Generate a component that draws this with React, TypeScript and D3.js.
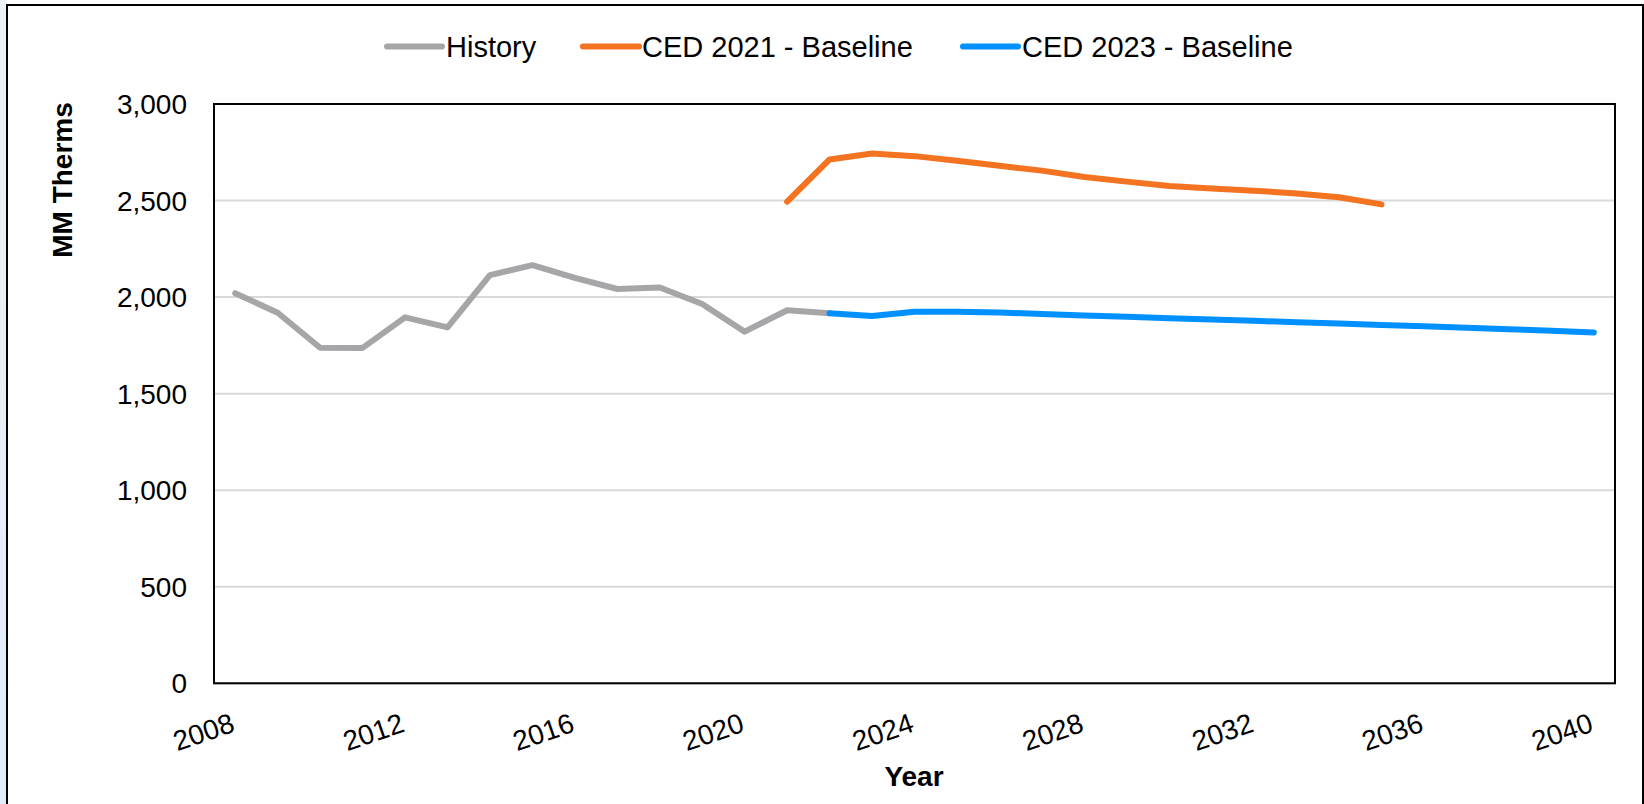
import React from "react";
import * as d3 from "d3";

const years = [2008, 2009, 2010, 2011, 2012, 2013, 2014, 2015, 2016, 2017, 2018, 2019, 2020, 2021, 2022, 2023, 2024, 2025, 2026, 2027, 2028, 2029, 2030, 2031, 2032, 2033, 2034, 2035, 2036, 2037, 2038, 2039, 2040];
const tickYears = [2008, 2012, 2016, 2020, 2024, 2028, 2032, 2036, 2040];
const yTicks = [0, 500, 1000, 1500, 2000, 2500, 3000];

const historyYears = [2008, 2009, 2010, 2011, 2012, 2013, 2014, 2015, 2016, 2017, 2018, 2019, 2020, 2021, 2022];
const historyValues = [2020, 1919, 1738, 1737, 1895, 1843, 2114, 2166, 2100, 2042, 2050, 1964, 1821, 1932, 1916];

const ced2021Years = [2021, 2022, 2023, 2024, 2025, 2026, 2027, 2028, 2029, 2030, 2031, 2032, 2033, 2034, 2035];
const ced2021Values = [2494, 2713, 2744, 2730, 2706, 2680, 2655, 2622, 2598, 2575, 2563, 2551, 2537, 2517, 2480];

const ced2023Years = [2022, 2023, 2024, 2025, 2026, 2027, 2028, 2029, 2030, 2031, 2032, 2033, 2034, 2035, 2036, 2037, 2038, 2039, 2040];
const ced2023Values = [1916, 1902, 1924, 1924, 1920, 1913, 1905, 1898, 1890, 1884, 1877, 1870, 1863, 1856, 1849, 1841, 1834, 1826, 1817];

const seriesNames = ["History", "CED 2021 - Baseline", "CED 2023 - Baseline"];
const seriesColors = ["#A6A6A9", "#F47321", "#0090FF"];

const W = 1644;
const H = 804;
const plot = { left: 214, right: 1615, top: 104, bottom: 683.3 };
const FONT = "'Liberation Sans', Arial, sans-serif";

export default function App() {
  const x = d3
    .scaleBand<number>()
    .domain(years)
    .range([plot.left, plot.right])
    .padding(0);
  const cx = (yr: number) => (x(yr) as number) + x.bandwidth() / 2;
  const y = d3.scaleLinear().domain([0, 3000]).range([plot.bottom, plot.top]);
  const fmt = d3.format(",");

  const line = d3
    .line<[number, number]>()
    .x((d) => cx(d[0]))
    .y((d) => y(d[1]));

  const series = [
    historyYears.map((yr, i) => [yr, historyValues[i]] as [number, number]),
    ced2021Years.map((yr, i) => [yr, ced2021Values[i]] as [number, number]),
    ced2023Years.map((yr, i) => [yr, ced2023Values[i]] as [number, number]),
  ];

  const legendItems = [
    { line: [387, 442], text: 446 },
    { line: [583, 639], text: 642 },
    { line: [963, 1018], text: 1022 },
  ];

  return (
    <svg
      width={W}
      height={H}
      style={{ position: "absolute", left: 0, top: 0, background: "#fff" }}
      fontFamily={FONT}
    >
      <defs>
        <linearGradient id="edge" x1="0" y1="0" x2="0" y2="1">
          <stop offset="0" stopColor="#EEF1F6" />
          <stop offset="1" stopColor="#E1ECF7" />
        </linearGradient>
      </defs>
      <rect x={0} y={0} width={W} height={H} fill="#fff" />
      <rect x={0} y={0} width={7} height={H} fill="url(#edge)" />
      <rect x={7} y={5} width={1636} height={H + 10} fill="#fff" stroke="#000" strokeWidth={2} />

      {/* grid */}
      {yTicks.map((t) => (
        <line key={"g" + t} x1={plot.left} x2={plot.right} y1={y(t)} y2={y(t)} stroke="#D9D9D9" strokeWidth={2} />
      ))}

      {/* series */}
      {series.map((s, i) => (
        <path
          key={"s" + i}
          d={line(s) || ""}
          fill="none"
          stroke={seriesColors[i]}
          strokeWidth={6}
          strokeLinejoin="round"
          strokeLinecap="round"
        />
      ))}

      {/* plot border */}
      <rect
        x={plot.left}
        y={plot.top}
        width={plot.right - plot.left}
        height={plot.bottom - plot.top}
        fill="none"
        stroke="#000"
        strokeWidth={2}
      />

      {/* y tick labels */}
      {yTicks.map((t) => (
        <text key={"yl" + t} x={187} y={y(t) + 10} textAnchor="end" fontSize={28} fill="#000">
          {fmt(t)}
        </text>
      ))}

      {/* x tick labels */}
      {tickYears.map((t) => (
        <text
          key={"xl" + t}
          x={cx(t) + 1}
          y={731}
          textAnchor="end"
          fontSize={28}
          fill="#000"
          transform={`rotate(-19, ${cx(t) + 1}, 731)`}
        >
          {t}
        </text>
      ))}

      {/* axis titles */}
      <text
        x={0}
        y={0}
        transform="translate(72, 180) rotate(-90)"
        textAnchor="middle"
        fontSize={28}
        fontWeight="bold"
        fill="#000"
      >
        MM Therms
      </text>
      <text x={914} y={786} textAnchor="middle" fontSize={28} fontWeight="bold" fill="#000">
        Year
      </text>

      {/* legend */}
      {legendItems.map((it, i) => (
        <g key={"lg" + i}>
          <line
            x1={it.line[0]}
            x2={it.line[1]}
            y1={46.5}
            y2={46.5}
            stroke={seriesColors[i]}
            strokeWidth={6}
            strokeLinecap="round"
          />
          <text x={it.text} y={56.5} fontSize={29} fill="#000">
            {seriesNames[i]}
          </text>
        </g>
      ))}
    </svg>
  );
}
